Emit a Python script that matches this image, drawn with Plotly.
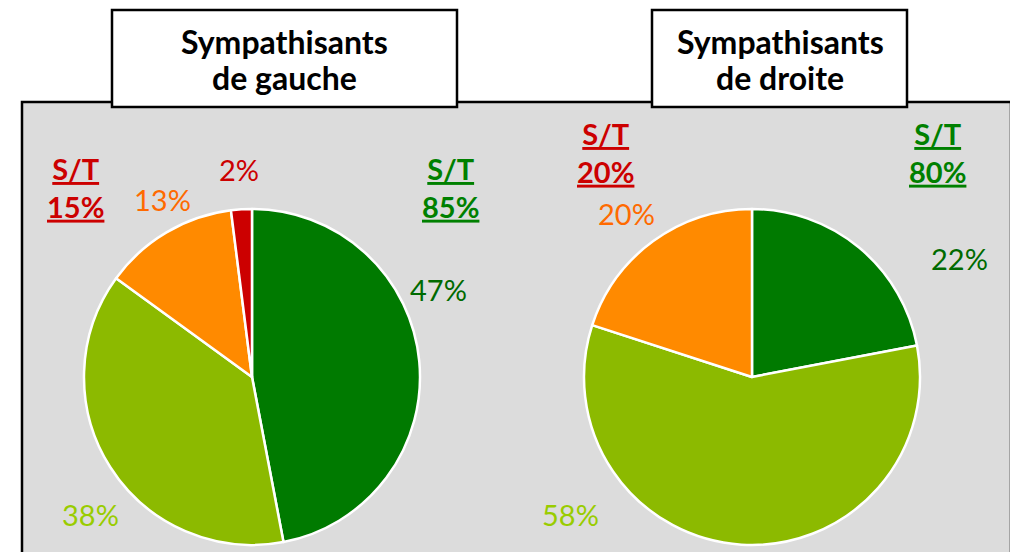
import plotly.graph_objects as go

W, H = 1018, 552
OFF = 8  # page body margin offset

# ---- data ----
left_labels = ["Tout à fait", "Plutôt", "Plutôt pas", "Pas du tout"]
left_values = [47, 38, 13, 2]
right_labels = ["Tout à fait", "Plutôt", "Plutôt pas"]
right_values = [22, 58, 20]
title_line1 = ["Sympathisants", "Sympathisants"]
title_line2 = ["de gauche", "de droite"]
left_st = ["S/T<br>15%", "S/T<br>85%"]
right_st = ["S/T<br>20%", "S/T<br>80%"]

slice_colors = ["#007a00", "#8cba00", "#ff8a00", "#cc0000"]
text_colors = ["#006a00", "#99cc00", "#ff6a00", "#cc0000"]
st_colors = ["#cc0000", "#008000"]

FONT = "Lato"

def px(x):
    return (x - OFF) / W

def py(y):
    return 1 - (y - OFF) / H

fig = go.Figure()

R = 168
def dom(cx, cy):
    return dict(x=[px(cx - R), px(cx + R)], y=[py(cy + R), py(cy - R)])

fig.add_trace(go.Pie(
    labels=left_labels, values=left_values, sort=False, direction="clockwise",
    rotation=0, textinfo="none", hoverinfo="label+percent",
    marker=dict(colors=slice_colors[:len(left_values)], line=dict(color="white", width=2.5)),
    domain=dom(252, 377), showlegend=False,
))
fig.add_trace(go.Pie(
    labels=right_labels, values=right_values, sort=False, direction="clockwise",
    rotation=0, textinfo="none", hoverinfo="label+percent",
    marker=dict(colors=slice_colors[:len(right_values)], line=dict(color="white", width=2.5)),
    domain=dom(752, 377), showlegend=False,
))

shapes = [
    dict(type="rect", xref="paper", yref="paper", x0=px(22), x1=px(1011), y0=py(620), y1=py(102),
         fillcolor="#dcdcdc", line=dict(color="black", width=2.5), layer="below"),
    dict(type="rect", xref="paper", yref="paper", x0=px(112), x1=px(457), y0=py(107), y1=py(10),
         fillcolor="white", line=dict(color="black", width=2.5), layer="below"),
    dict(type="rect", xref="paper", yref="paper", x0=px(652), x1=px(907), y0=py(107), y1=py(10),
         fillcolor="white", line=dict(color="black", width=2.5), layer="below"),
]

annotations = []
def ann(text, x, y, color, size=29, bold=False, under=False):
    annotations.append(dict(
        text=("<b>%s</b>" % text) if bold else text, x=px(x), y=py(y),
        xref="paper", yref="paper", showarrow=False, xanchor="center", yanchor="middle",
        font=dict(family=FONT, size=size, color=color, lineposition="under" if under else "none"),
    ))

# titles
ann(title_line1[0], 284.5, 41, "black", size=32, bold=True)
ann(title_line2[0], 284.5, 77, "black", size=32, bold=True)
ann(title_line1[1], 780, 41, "black", size=32, bold=True)
ann(title_line2[1], 780, 77, "black", size=32, bold=True)

# left pie labels
ann(left_st[0], 75, 187, st_colors[0], bold=True, under=True)
ann(left_st[1], 450, 187, st_colors[1], bold=True, under=True)
ann("%d%%" % left_values[3], 239, 170, text_colors[3])
ann("%d%%" % left_values[2], 162, 199, text_colors[2])
ann("%d%%" % left_values[0], 438, 289, text_colors[0])
ann("%d%%" % left_values[1], 90, 514, text_colors[1])

# right pie labels
ann(right_st[0], 605, 153, st_colors[0], bold=True, under=True)
ann(right_st[1], 937, 153, st_colors[1], bold=True, under=True)
ann("%d%%" % right_values[2], 626, 213, text_colors[2])
ann("%d%%" % right_values[0], 959, 258, text_colors[0])
ann("%d%%" % right_values[1], 570, 514, text_colors[1])

fig.update_layout(
    width=W, height=H, margin=dict(l=0, r=0, t=0, b=0),
    paper_bgcolor="white", plot_bgcolor="white",
    shapes=shapes, annotations=annotations, showlegend=False,
)

fig.write_html("out.html")
